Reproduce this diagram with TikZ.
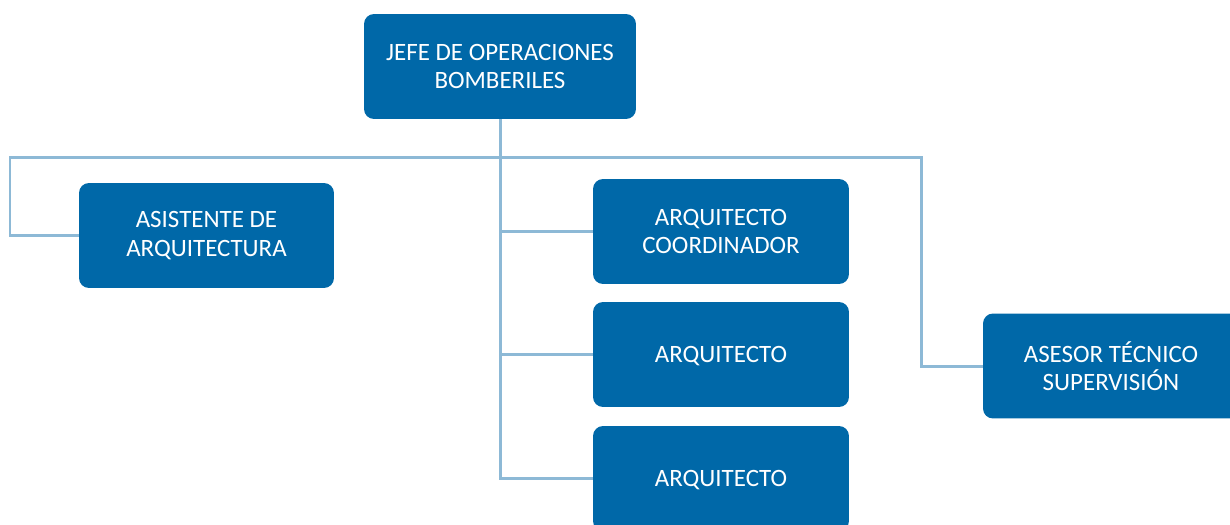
\documentclass[tikz,border=0pt]{standalone}
\usepackage{fontspec}
\setmainfont{Carlito}
\usetikzlibrary{positioning,calc}
\definecolor{boxblue}{RGB}{0,104,168}
\definecolor{lineblue}{RGB}{141,185,214}

\begin{document}
\begin{tikzpicture}[x=0.02cm,y=-0.02cm,
	cargo/.style={fill=boxblue, rounded corners=0.2cm, text=white, align=center,
		minimum width=5.12cm, minimum height=2.1cm, inner sep=0pt,
		font=\fontsize{14.2}{16}\selectfont},
	enlace/.style={draw=lineblue, line width=0.06cm}]
	\clip (0,0) rectangle (1230,524);
	
	% Jefe
	\node[cargo, minimum width=5.44cm] (jefe) at (500,66.5) {JEFE DE OPERACIONES\\BOMBERILES};
	
	% Asistente (izquierda)
	\node[cargo, minimum width=5.1cm] (asist) at (206.5,235.5) {ASISTENTE DE\\ARQUITECTURA};
	
	% Arquitectos (centro)
	\node[cargo] (coord) at (721,231.5) {ARQUITECTO\\COORDINADOR};
	\node[cargo, text depth=0pt] (arqA) at (721,354.5) {ARQUITECTO};
	\node[cargo, text depth=0pt] (arqB) at (721,478.5) {ARQUITECTO};
	
	% Asesor (derecha)
	\node[cargo] (asesor) at (1111,366) {ASESOR TÉCNICO\\SUPERVISIÓN};
	
	% Enlaces
	\coordinate (izq) at (10,157);
	\coordinate (der) at (921,157);
	\draw[enlace] (asist.west) -| (izq) -- (der) |- (asesor.west);
	\draw[enlace] (jefe.south) |- (arqB.west);
	\draw[enlace] (jefe.south |- coord.west) -- (coord.west);
	\draw[enlace] (jefe.south |- arqA.west) -- (arqA.west);
\end{tikzpicture}
\end{document}
